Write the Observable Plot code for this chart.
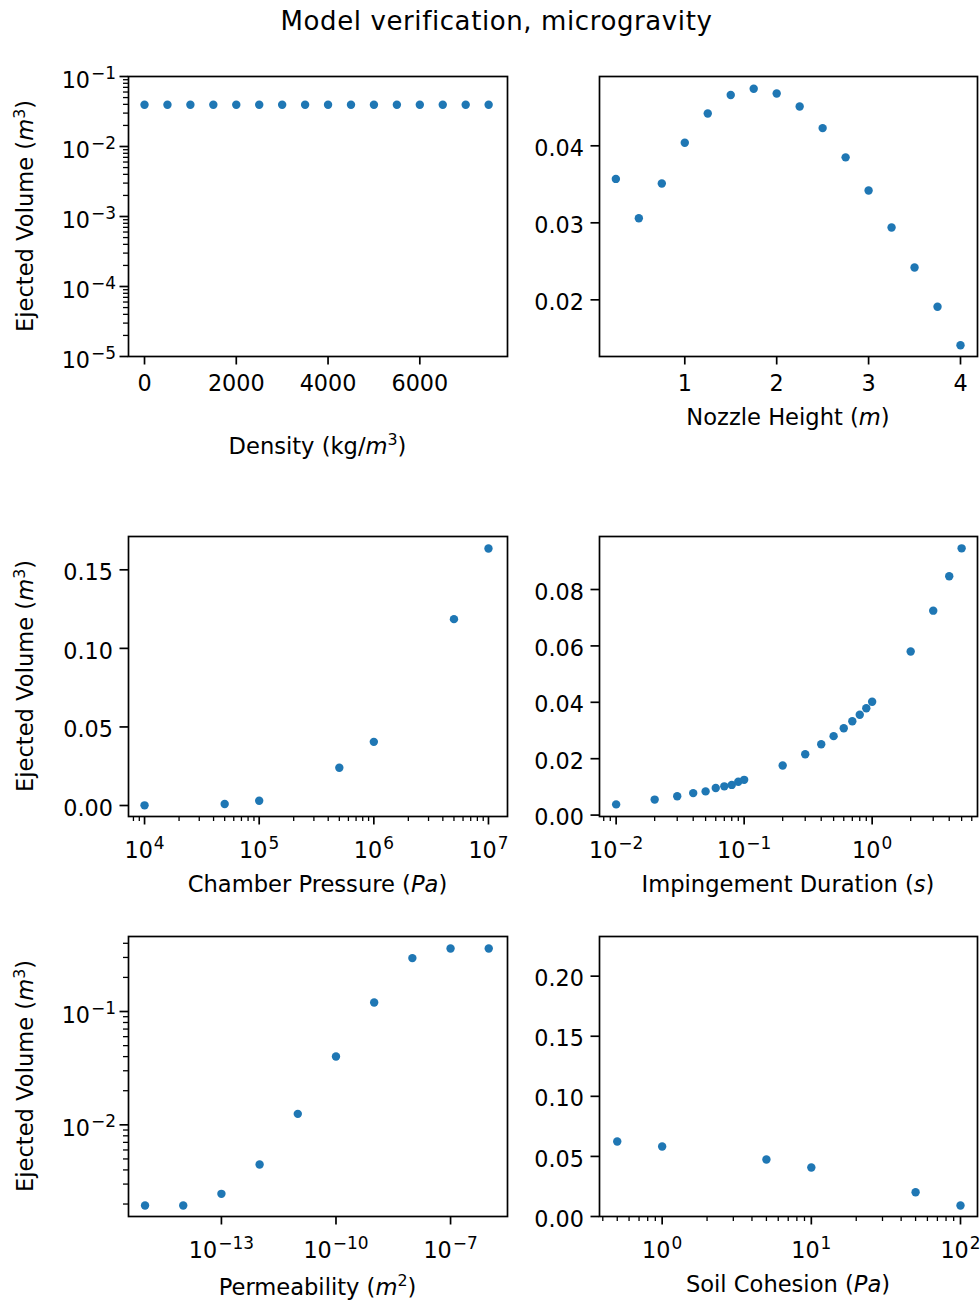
<!DOCTYPE html>
<html><head><meta charset="utf-8">
<script src="https://cdn.jsdelivr.net/npm/d3@7"></script>
<script src="https://cdn.jsdelivr.net/npm/@observablehq/plot@0.6"></script>
<style>
body{margin:0;background:#fff;}
#fig{position:relative;width:980px;height:1301px;font-family:"DejaVu Sans";background:#fff;overflow:hidden;}
#title{position:absolute;left:0;top:8px;width:993px;text-align:center;font-size:26px;line-height:26px;letter-spacing:0.6px;color:#000;white-space:nowrap;}
.panel{position:absolute;}
</style></head><body>
<div id="fig"><div id="title">Model verification, microgravity</div></div>
<script>
// ---------- data ----------
const densityX = [0,500,1000,1500,2000,2500,3000,3500,4000,4500,5000,5500,6000,6500,7000,7500];
const densityVolume = [0.0395,0.0395,0.0395,0.0395,0.0395,0.0395,0.0395,0.0395,0.0395,0.0395,0.0395,0.0395,0.0395,0.0395,0.0395,0.0395];
const nozzleHeightX = [0.25,0.5,0.75,1,1.25,1.5,1.75,2,2.25,2.5,2.75,3,3.25,3.5,3.75,4];
const nozzleVolume = [0.0357,0.0306,0.0351,0.0404,0.0442,0.0466,0.0474,0.0468,0.0451,0.0423,0.0385,0.0342,0.0294,0.0242,0.0191,0.0141];
const pressureX = [1e4,5e4,1e5,5e5,1e6,5e6,1e7];
const pressureVolume = [0.0001,0.001,0.003,0.024,0.0405,0.1186,0.1636];
const durationX = [0.01,0.02,0.03,0.04,0.05,0.06,0.07,0.08,0.09,0.1,0.2,0.3,0.4,0.5,0.6,0.7,0.8,0.9,1,2,3,4,5];
const durationVolume = [0.0038,0.0055,0.0067,0.0078,0.0084,0.0096,0.0102,0.0107,0.0118,0.0125,0.0176,0.0216,0.0251,0.0280,0.0308,0.0333,0.0356,0.0379,0.0402,0.0580,0.0725,0.0847,0.0946];
const permeabilityX = [1e-15,1e-14,1e-13,1e-12,1e-11,1e-10,1e-9,1e-8,1e-7,1e-6];
const permeabilityVolume = [0.00194,0.00194,0.00246,0.00447,0.0125,0.0401,0.120,0.296,0.360,0.360];
const cohesionX = [0.5,1,5,10,50,100];
const cohesionVolume = [0.0624,0.0583,0.0474,0.0408,0.0202,0.0092];

// ---------- ticks ----------
const densityTicks = [0,2000,4000,6000];
const volumeLogTicks = [1e-5,1e-4,1e-3,1e-2,1e-1];
const nozzleTicks = [1,2,3,4];
const nozzleVolumeTicks = [0.02,0.03,0.04];
const pressureTicks = [1e4,1e5,1e6,1e7];
const pressureVolumeTicks = [0,0.05,0.10,0.15];
const durationTicks = [1e-2,1e-1,1e0];
const durationVolumeTicks = [0,0.02,0.04,0.06,0.08];
const permeabilityTicks = [1e-13,1e-10,1e-7];
const permeabilityVolumeTicks = [1e-2,1e-1];
const cohesionTicks = [1e0,1e1,1e2];
const cohesionVolumeTicks = [0,0.05,0.10,0.15,0.20];

// ---------- labels ----------
const titleText = "Model verification, microgravity";
const yLabelParts = [["Ejected Volume ("],["m","i"],["3","s"],[")"]];
const densityLabel = [["Density (kg/"],["m","i"],["3","s"],[")"]];
const nozzleLabel = [["Nozzle Height ("],["m","i"],[")"]];
const pressureLabel = [["Chamber Pressure ("],["Pa","i"],[")"]];
const durationLabel = [["Impingement Duration ("],["s","i"],[")"]];
const permeabilityLabel = [["Permeability ("],["m","i"],["2","s"],[")"]];
const cohesionLabel = [["Soil Cohesion ("],["Pa","i"],[")"]];

// ---------- layout & style ----------
const TICK_FS = 22.3, LABEL_FS = 22.6;
const BLUE = "#1f77b4";
const rows = [
  {top: 40, h: 440, f0: 76, f1: 356},
  {top: 480, h: 420, f0: 536, f1: 816},
  {top: 900, h: 401, f0: 936, f1: 1216}
];
const cols = [
  {left: 0, w: 520, f0: 128, f1: 507},
  {left: 520, w: 460, f0: 599, f1: 977}
];
const ns = "http://www.w3.org/2000/svg";
const fmtPow = d => { const e = Math.round(Math.log10(d)); return "10^" + (e < 0 ? "\u2212" + (-e) : String(e)); };

function minorLog(lo, hi) {
  const out = [];
  for (let k = Math.floor(Math.log10(lo)) - 1; k <= Math.ceil(Math.log10(hi)); k++)
    for (let m = 2; m <= 9; m++) { const v = m * Math.pow(10, k); if (v >= lo * 0.9999 && v <= hi * 1.0001) out.push(v); }
  return out;
}

function axisMarks(dim, ticks, minor, fmt, isLog) {
  const A = dim === "x" ? Plot.axisX : Plot.axisY;
  const anchor = dim === "x" ? "bottom" : "left";
  const m = [
    A(ticks, {anchor, tickSize: 8.5, strokeWidth: 1.7, stroke: "black", fill: "none", label: null})
  ];
  if (minor && minor.length) m.push(A(minor, {anchor, tickSize: 5, strokeWidth: 1.3, stroke: "black", fill: "none", label: null}));
  if (dim === "x") {
    m.push(A(ticks, {anchor, tickSize: 0, tickPadding: isLog ? 25.8 : 18.8, tickFormat: fmt, fill: "black", label: null}));
  } else {
    m.push(A(ticks, {anchor, tickSize: 0, tickPadding: isLog ? 12.5 : 15.5, tickFormat: fmt, fill: "black", label: null, dy: isLog ? 4.5 : 3}));
  }
  return m;
}

function richText(sel, parts, fs, sup) {
  let raised = false;
  for (const [t, st] of parts) {
    const ts = sel.append("tspan").text(t);
    if (st === "i") ts.attr("font-style", "italic");
    if (st === "s") { ts.attr("font-size", fs * 0.7).attr("dy", -sup); raised = true; }
    else if (raised) { ts.attr("dy", sup); raised = false; }
  }
}

function superscriptTicks(svg) {
  d3.select(svg).selectAll("text").each(function() {
    const s = this.textContent;
    const i = s.indexOf("^");
    if (i < 0) return;
    const base = s.slice(0, i), exp = s.slice(i + 1);
    this.textContent = "";
    const t1 = document.createElementNS(ns, "tspan"); t1.textContent = base;
    const t2 = document.createElementNS(ns, "tspan"); t2.textContent = exp;
    t2.setAttribute("font-size", TICK_FS * 0.76);
    t2.setAttribute("dx", 1);
    t2.setAttribute("dy", -9.5);
    this.append(t1, t2);
  });
}

function panel(p) {
  const R = rows[p.row], C = cols[p.col];
  const data = p.xs.map((x, i) => ({x, y: p.ys[i]}));
  const svg = Plot.plot({
    width: C.w, height: R.h,
    marginLeft: C.f0 - C.left, marginRight: C.left + C.w - C.f1,
    marginTop: R.f0 - R.top, marginBottom: R.top + R.h - R.f1,
    style: {fontFamily: "DejaVu Sans", fontSize: TICK_FS + "px", background: "transparent", color: "black", overflow: "visible"},
    x: {type: p.xLog ? "log" : "linear", domain: p.xDomain, label: null},
    y: {type: p.yLog ? "log" : "linear", domain: p.yDomain, label: null},
    marks: [
      Plot.dot(data, {x: "x", y: "y", r: 4.2, fill: BLUE}),
      Plot.frame({stroke: "black", strokeWidth: 1.7}),
      ...axisMarks("x", p.xTicks, p.xMinor, p.xFormat, p.xLog),
      ...axisMarks("y", p.yTicks, p.yMinor, p.yFormat, p.yLog)
    ]
  });
  superscriptTicks(svg);
  const s = d3.select(svg);
  const xl = s.append("text")
    .attr("x", (C.f0 + C.f1) / 2 - C.left).attr("y", p.xLabelBase - R.top)
    .attr("text-anchor", "middle").attr("font-size", LABEL_FS).attr("fill", "black");
  richText(xl, p.xLabel, LABEL_FS, 8.5);
  if (p.col === 0) {
    const yx = 33.3 - C.left, yy = (R.f0 + R.f1) / 2 - R.top;
    const yl = s.append("text")
      .attr("x", yx).attr("y", yy).attr("transform", `rotate(-90,${yx},${yy})`)
      .attr("text-anchor", "middle").attr("font-size", LABEL_FS).attr("fill", "black");
    richText(yl, yLabelParts, LABEL_FS, 8.5);
  }
  svg.classList.add("panel");
  svg.style.left = C.left + "px";
  svg.style.top = R.top + "px";
  svg.style.position = "absolute";
  document.getElementById("fig").appendChild(svg);
}

const fmt2 = d3.format(".2f"), fmtInt = d3.format("d");

const panels = [
  {row: 0, col: 0, xs: densityX, ys: densityVolume, xLog: false, yLog: true,
   xDomain: [-349, 7911], yDomain: [1e-5, 1e-1],
   xTicks: densityTicks, xMinor: null, xFormat: fmtInt,
   yTicks: volumeLogTicks, yMinor: minorLog(1e-5, 1e-1), yFormat: fmtPow,
   xLabel: densityLabel, xLabelBase: 453.5},
  {row: 0, col: 1, xs: nozzleHeightX, ys: nozzleVolume, xLog: false, yLog: false,
   xDomain: [0.072, 4.185], yDomain: [0.01264, 0.049],
   xTicks: nozzleTicks, xMinor: null, xFormat: fmtInt,
   yTicks: nozzleVolumeTicks, yMinor: null, yFormat: fmt2,
   xLabel: nozzleLabel, xLabelBase: 425},
  {row: 1, col: 0, xs: pressureX, ys: pressureVolume, xLog: true, yLog: false,
   xDomain: [Math.pow(10, 3.86), Math.pow(10, 7.166)], yDomain: [-0.0070, 0.1712],
   xTicks: pressureTicks, xMinor: minorLog(Math.pow(10, 3.86), Math.pow(10, 7.166)), xFormat: fmtPow,
   yTicks: pressureVolumeTicks, yMinor: null, yFormat: fmt2,
   xLabel: pressureLabel, xLabelBase: 892},
  {row: 1, col: 1, xs: durationX, ys: durationVolume, xLog: true, yLog: false,
   xDomain: [Math.pow(10, -2.13), Math.pow(10, 0.823)], yDomain: [-0.0005, 0.0988],
   xTicks: durationTicks, xMinor: minorLog(Math.pow(10, -2.13), Math.pow(10, 0.823)), xFormat: fmtPow,
   yTicks: durationVolumeTicks, yMinor: null, yFormat: fmt2,
   xLabel: durationLabel, xLabelBase: 892},
  {row: 2, col: 0, xs: permeabilityX, ys: permeabilityVolume, xLog: true, yLog: true,
   xDomain: [Math.pow(10, -15.433), Math.pow(10, -5.509)], yDomain: [Math.pow(10, -2.809), Math.pow(10, -0.338)],
   xTicks: permeabilityTicks, xMinor: null, xFormat: fmtPow,
   yTicks: permeabilityVolumeTicks, yMinor: minorLog(Math.pow(10, -2.809), Math.pow(10, -0.338)), yFormat: fmtPow,
   xLabel: permeabilityLabel, xLabelBase: 1294.5},
  {row: 2, col: 1, xs: cohesionX, ys: cohesionVolume, xLog: true, yLog: false,
   xDomain: [Math.pow(10, -0.42), Math.pow(10, 2.114)], yDomain: [0, 0.233],
   xTicks: cohesionTicks, xMinor: minorLog(Math.pow(10, -0.42), Math.pow(10, 2.114)), xFormat: fmtPow,
   yTicks: cohesionVolumeTicks, yMinor: null, yFormat: fmt2,
   xLabel: cohesionLabel, xLabelBase: 1291.5}
];
document.getElementById("title").textContent = titleText;
panels.forEach(panel);
</script>
</body></html>
